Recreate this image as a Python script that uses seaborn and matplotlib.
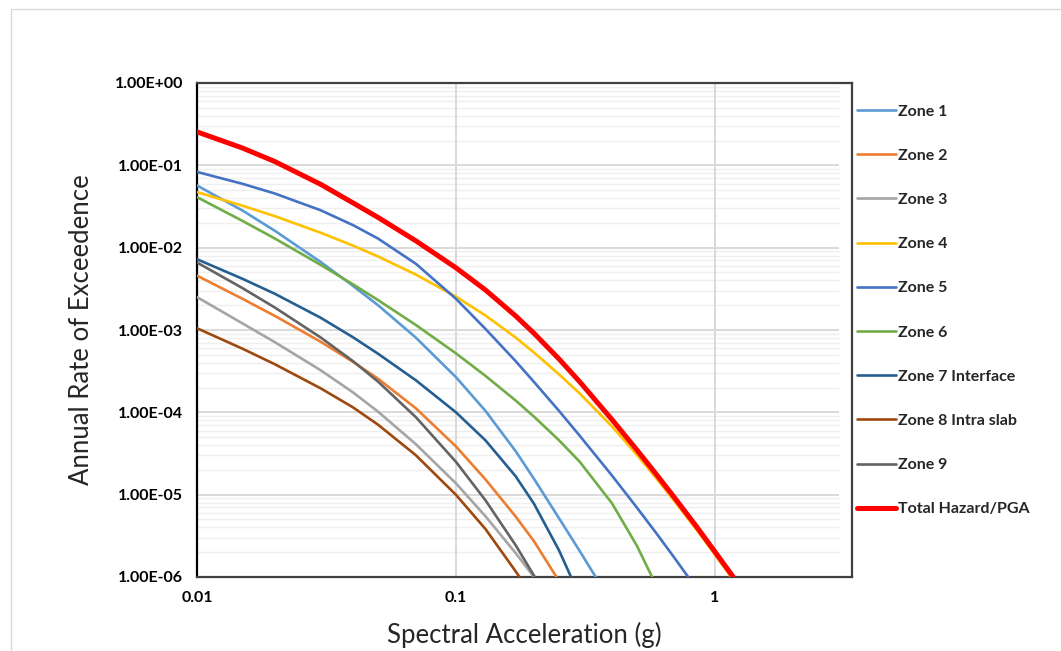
import numpy as np
import pandas as pd
import matplotlib
matplotlib.use("Agg")
import matplotlib.pyplot as plt
from matplotlib.lines import Line2D
from matplotlib.patches import Rectangle
import seaborn as sns

nan = np.nan
# Spectral acceleration (g)
sa = [0.01, 0.015, 0.02, 0.03, 0.04, 0.05, 0.07, 0.1, 0.13, 0.17, 0.2,
      0.25, 0.3, 0.4, 0.5, 0.6, 0.7, 0.85, 1.0, 1.2, 1.5]

# Annual rate of exceedance
zone1 = [5.69e-2, 2.82e-2, 1.60e-2, 6.71e-3, 3.44e-3, 2.00e-3, 8.07e-4, 2.67e-4, 1.04e-4, 3.37e-5, 1.56e-5,
         5.16e-6, 2.08e-6, 4.79e-7, nan, nan, nan, nan, nan, nan, nan]
zone2 = [4.57e-3, 2.39e-3, 1.48e-3, 7.21e-4, 4.11e-4, 2.56e-4, 1.12e-4, 3.85e-5, 1.53e-5, 5.42e-6, 2.72e-6,
         8.91e-7, 3.72e-7, nan, nan, nan, nan, nan, nan, nan, nan]
zone3 = [2.51e-3, 1.20e-3, 7.10e-4, 3.25e-4, 1.75e-4, 1.02e-4, 4.10e-5, 1.37e-5, 5.46e-6, 1.95e-6, 9.98e-7,
         3.72e-7, nan, nan, nan, nan, nan, nan, nan, nan, nan]
zone4 = [4.73e-2, 3.23e-2, 2.41e-2, 1.52e-2, 1.06e-2, 7.82e-3, 4.71e-3, 2.54e-3, 1.50e-3, 8.09e-4, 5.33e-4,
         2.89e-4, 1.70e-4, 6.75e-5, 3.03e-5, 1.51e-5, 8.20e-6, 3.72e-6, 1.86e-6, 8.41e-7, 3.16e-7]
zone5 = [8.32e-2, 5.96e-2, 4.54e-2, 2.85e-2, 1.88e-2, 1.29e-2, 6.37e-3, 2.39e-3, 1.03e-3, 4.18e-4, 2.34e-4,
         1.04e-4, 5.22e-5, 1.71e-5, 6.93e-6, 3.25e-6, 1.68e-6, 7.16e-7, 3.39e-7, nan, nan]
zone6 = [4.11e-2, 2.11e-2, 1.29e-2, 6.19e-3, 3.59e-3, 2.31e-3, 1.15e-3, 5.20e-4, 2.77e-4, 1.39e-4, 8.87e-5,
         4.57e-5, 2.52e-5, 7.87e-6, 2.38e-6, 7.29e-7, 2.34e-7, nan, nan, nan, nan]
zone7 = [7.24e-3, 4.18e-3, 2.75e-3, 1.41e-3, 8.17e-4, 5.15e-4, 2.45e-4, 1.00e-4, 4.56e-5, 1.67e-5, 7.76e-6,
         2.10e-6, 5.89e-7, nan, nan, nan, nan, nan, nan, nan, nan]
zone8 = [1.05e-3, 5.92e-4, 3.83e-4, 1.96e-4, 1.15e-4, 7.08e-5, 3.01e-5, 9.95e-6, 3.82e-6, 1.17e-6, 5.50e-7,
         nan, nan, nan, nan, nan, nan, nan, nan, nan, nan]
zone9 = [6.61e-3, 3.22e-3, 1.87e-3, 8.13e-4, 4.19e-4, 2.36e-4, 8.73e-5, 2.50e-5, 8.53e-6, 2.43e-6, 1.04e-6,
         2.94e-7, nan, nan, nan, nan, nan, nan, nan, nan, nan]
total = [2.55e-1, 1.62e-1, 1.11e-1, 5.89e-2, 3.50e-2, 2.33e-2, 1.21e-2, 5.69e-3, 3.06e-3, 1.48e-3, 9.12e-4,
         4.44e-4, 2.36e-4, 8.17e-5, 3.47e-5, 1.69e-5, 9.06e-6, 4.06e-6, 2.02e-6, 9.16e-7, 3.35e-7]

labels = ["Zone 1", "Zone 2", "Zone 3", "Zone 4", "Zone 5", "Zone 6",
          "Zone 7 Interface", "Zone 8 Intra slab", "Zone 9", "Total Hazard/PGA"]
series = [zone1, zone2, zone3, zone4, zone5, zone6, zone7, zone8, zone9, total]
colors = ["#5B9BD5", "#ED7D31", "#A5A5A5", "#FFC000", "#4472C4", "#70AD47",
          "#255E91", "#9E480E", "#636363", "#FF0000"]

y_ticks = [1e-6, 1e-5, 1e-4, 1e-3, 1e-2, 1e-1, 1e0]
x_ticks = [0.01, 0.1, 1]
x_tick_labels = ["0.01", "0.1", "1"]

rows = []
for lab, vals in zip(labels, series):
    for x, v in zip(sa, vals):
        rows.append({"sa": x, "rate": v, "series": lab})
df = pd.DataFrame(rows)

sns.set_theme(style="white")
plt.rcParams["font.family"] = ["Lato", "DejaVu Sans"]

fig = plt.figure(figsize=(10.61, 6.51), dpi=100)
W, H = 1061, 651
ax = fig.add_axes([197 / W, 1 - 577 / H, (852 - 197) / W, (577 - 83) / H])

# outer chart border
fig.patches.append(Rectangle((11 / W, -0.05), 1.2, 1 - 9 / H + 0.05, transform=fig.transFigure,
                             fill=False, edgecolor="#d9d9d9", linewidth=1.0, zorder=0))

ax.set_xscale("log")
ax.set_yscale("log")
ax.set_xlim(0.01, 3.38)
ax.set_ylim(1e-6, 1.0)

# gridlines (stop at x = 3 like the reference)
for d in range(-6, 0):
    for m in range(2, 10):
        ax.hlines(m * 10.0 ** d, 0.01, 3.0, colors="#efefef", linewidth=1.0, zorder=0)
for t in y_ticks[1:-1]:
    ax.hlines(t, 0.01, 3.0, colors="#d9d9d9", linewidth=1.4, zorder=0.5)
for t in [0.1, 1.0]:
    ax.vlines(t, 1e-6, 1.0, colors="#d9d9d9", linewidth=1.4, zorder=0.5)

handles = []
for lab, col in zip(labels, colors):
    lw = 3.6 if lab.startswith("Total") else 1.9
    sub = df[df["series"] == lab].dropna()
    sns.lineplot(data=sub, x="sa", y="rate", ax=ax, color=col, linewidth=lw,
                 estimator=None, sort=False, legend=False, zorder=3)
    handles.append(Line2D([0], [0], color=col, linewidth=lw))

ax.set_xticks(x_ticks)
ax.set_xticklabels(x_tick_labels)
ax.set_yticks(y_ticks)
ax.set_yticklabels([f"{v:.2E}" for v in y_ticks])
ax.xaxis.set_minor_locator(matplotlib.ticker.NullLocator())
ax.yaxis.set_minor_locator(matplotlib.ticker.NullLocator())
ax.tick_params(axis="both", length=0, labelsize=11.5, colors="#000000")
ax.tick_params(axis="y", pad=10)
ax.tick_params(axis="x", pad=10)
for lbl in ax.get_xticklabels() + ax.get_yticklabels():
    lbl.set_fontweight("bold")

ax.set_xlabel("Spectral Acceleration (g)", fontsize=18.5, color="#262626", labelpad=12)
ax.set_ylabel("Annual Rate of Exceedence", fontsize=18.5, color="#262626", labelpad=15)

for side in ["left", "bottom", "top", "right"]:
    ax.spines[side].set_visible(True)
    ax.spines[side].set_color("#404040")
    ax.spines[side].set_linewidth(1.6)
ax.spines["left"].set_color("#000000")

leg = ax.legend(handles, labels, loc="upper left", bbox_to_anchor=(851 / W, 1 - 98 / H),
                bbox_transform=fig.transFigure, frameon=False, fontsize=11.5,
                handlelength=2.4, handletextpad=0.15, labelspacing=1.88, borderaxespad=0)
for t in leg.get_texts():
    t.set_fontweight("bold")

fig.savefig("out.png", dpi=100)
